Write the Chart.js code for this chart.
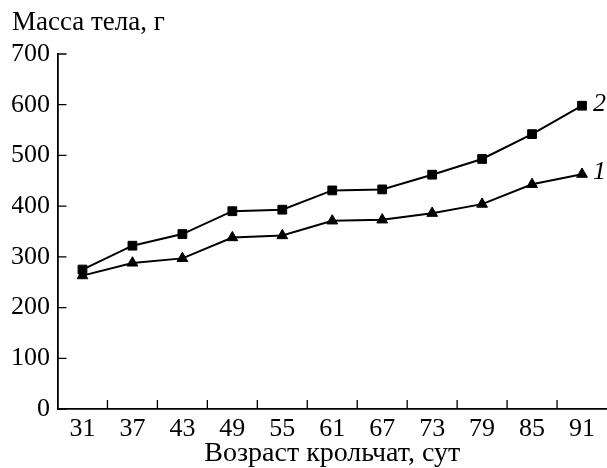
<!DOCTYPE html>
<html>
<head>
  <meta charset="utf-8">
  <title>Масса тела крольчат</title>
  <script src="https://cdn.jsdelivr.net/npm/chart.js"></script>
  <style>
    body { margin: 0; padding: 0; background: #fff; }
    #chart { display: block; }
  </style>
</head>
<body>
  <canvas id="chart" width="607" height="468"></canvas>
  <script>
    // --- DATA ---
    const ages = ['31', '37', '43', '49', '55', '61', '67', '73', '79', '85', '91'];
    // curve 1 (triangles) and curve 2 (squares), body mass in grams
    const mass1 = [263, 288, 297, 338, 342, 371, 373, 386, 404, 443, 463];
    const mass2 = [275, 322, 345, 390, 393, 431, 433, 462, 493, 542, 598];
    const curveNames = ['1', '2'];

    const yTitle = 'Масса тела, г';
    const xTitle = 'Возраст крольчат, сут';

    const serif = 'Liberation Serif';
    const fontSize = 26;

    // writes "1" / "2" next to the last point of each curve
    const curveLabels = {
      id: 'curveLabels',
      afterDatasetsDraw(chart) {
        const ctx = chart.ctx;
        ctx.save();
        ctx.font = 'italic ' + fontSize + 'px "' + serif + '"';
        ctx.fillStyle = '#000';
        ctx.textAlign = 'left';
        ctx.textBaseline = 'middle';
        chart.data.datasets.forEach((ds, i) => {
          const pts = chart.getDatasetMeta(i).data;
          const last = pts[pts.length - 1];
          ctx.fillText(ds.label, last.x + 11, last.y - 2);
        });
        ctx.restore();
      }
    };

    // short tick marks pointing into the plot (Chart.js only draws them outward)
    const innerTicks = {
      id: 'innerTicks',
      afterDraw(chart) {
        const ctx = chart.ctx;
        const xs = chart.scales.x, ys = chart.scales.y;
        const len = 9;
        ctx.save();
        ctx.strokeStyle = '#000';
        ctx.lineWidth = 1.3;
        ctx.beginPath();
        ys.ticks.forEach(t => {
          const y = ys.getPixelForValue(t.value);
          ctx.moveTo(xs.left, y);
          ctx.lineTo(xs.left + len, y);
        });
        // x ticks sit between the categories
        for (let i = 0; i < ages.length - 1; i++) {
          const x = (xs.getPixelForValue(i) + xs.getPixelForValue(i + 1)) / 2;
          ctx.moveTo(x, ys.bottom);
          ctx.lineTo(x, ys.bottom - len);
        }
        ctx.stroke();
        ctx.restore();
      }
    };

    const chart = new Chart(document.getElementById('chart'), {
      type: 'line',
      data: {
        labels: ages,
        datasets: [
          {
            label: curveNames[0],
            data: mass1,
            borderColor: '#000',
            backgroundColor: '#000',
            borderWidth: 2,
            pointStyle: 'triangle',
            pointRadius: 6.2,
            pointBorderWidth: 1,
            tension: 0
          },
          {
            label: curveNames[1],
            data: mass2,
            borderColor: '#000',
            backgroundColor: '#000',
            borderWidth: 2,
            pointStyle: 'rect',
            pointRadius: 6.2,
            pointBorderWidth: 1,
            tension: 0
          }
        ]
      },
      options: {
        responsive: false,
        animation: false,
        layout: { autoPadding: false, padding: { left: 12, right: 0, top: 0, bottom: 0 } },
        plugins: {
          legend: { display: false },
          tooltip: { enabled: false },
          title: {
            display: true,
            text: yTitle,
            align: 'start',
            color: '#000',
            font: { family: serif, size: 27, weight: 'normal', lineHeight: 1.2 },
            padding: { top: 7, bottom: 14.6 }
          }
        },
        scales: {
          x: {
            offset: true,
            grid: { display: false, drawTicks: false },
            border: { color: '#000', width: 1.8 },
            ticks: {
              color: '#000',
              padding: 7,
              maxRotation: 0,
              autoSkip: false,
              font: { family: serif, size: fontSize, lineHeight: 1 }
            },
            title: {
              display: true,
              text: xTitle,
              color: '#000',
              padding: { top: 0, bottom: 0 },
              font: { family: serif, size: 28, lineHeight: 1 }
            },
            afterFit(scale) {
              scale.height = 59;
              scale.paddingLeft = 0;
              scale.paddingRight = 0;
            }
          },
          y: {
            min: 0,
            max: 700,
            grid: { display: false, drawTicks: false },
            border: { color: '#000', width: 1.8 },
            ticks: {
              stepSize: 100,
              color: '#000',
              padding: 7.5,
              font: { family: serif, size: fontSize }
            },
            afterFit(scale) {
              scale.width = 45.5;
            }
          }
        }
      },
      plugins: [curveLabels, innerTicks]
    });
  </script>
</body>
</html>
